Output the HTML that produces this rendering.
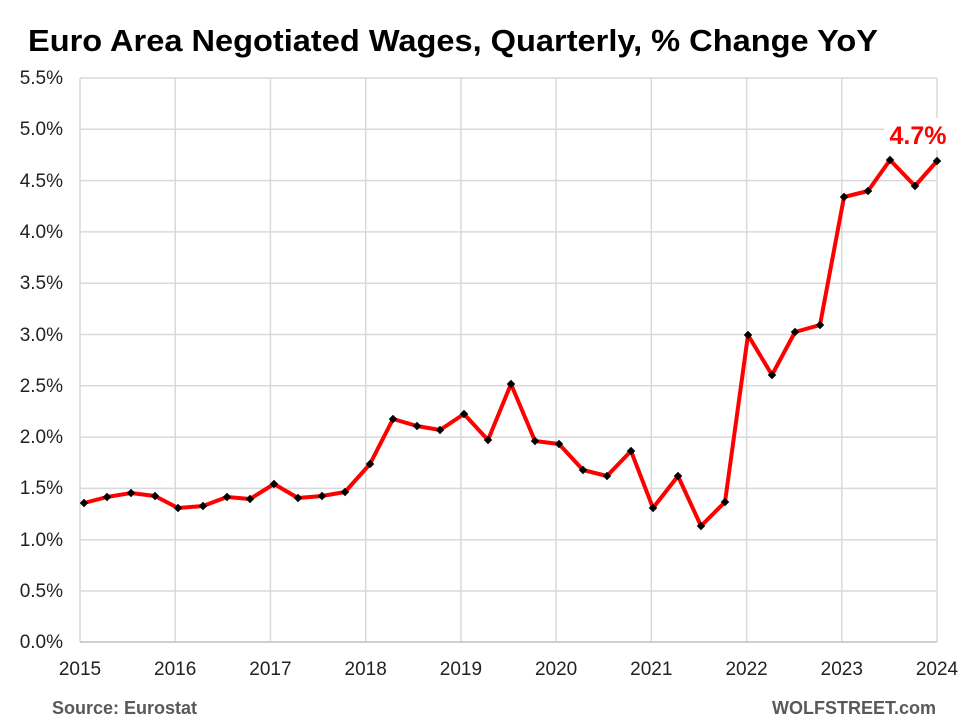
<!DOCTYPE html>
<html><head><style>
body{margin:0;background:#fff;}
svg{display:block;font-family:"Liberation Sans",sans-serif;}
</style></head><body>
<svg width="968" height="726" viewBox="0 0 968 726">
<rect width="968" height="726" fill="#fff"/>
<text x="28" y="51" font-size="31" font-weight="bold" textLength="850" lengthAdjust="spacingAndGlyphs" fill="#000">Euro Area Negotiated Wages, Quarterly, % Change YoY</text>
<g stroke="#d9d9d9" stroke-width="1.5">
<line x1="80" y1="78" x2="937" y2="78"/><line x1="80" y1="129.3" x2="937" y2="129.3"/><line x1="80" y1="180.6" x2="937" y2="180.6"/><line x1="80" y1="231.9" x2="937" y2="231.9"/><line x1="80" y1="283.2" x2="937" y2="283.2"/><line x1="80" y1="334.5" x2="937" y2="334.5"/><line x1="80" y1="385.8" x2="937" y2="385.8"/><line x1="80" y1="437.1" x2="937" y2="437.1"/><line x1="80" y1="488.4" x2="937" y2="488.4"/><line x1="80" y1="539.7" x2="937" y2="539.7"/><line x1="80" y1="591" x2="937" y2="591"/>
<line x1="80" y1="78" x2="80" y2="642"/><line x1="175.2" y1="78" x2="175.2" y2="642"/><line x1="270.4" y1="78" x2="270.4" y2="642"/><line x1="365.7" y1="78" x2="365.7" y2="642"/><line x1="460.9" y1="78" x2="460.9" y2="642"/><line x1="556.1" y1="78" x2="556.1" y2="642"/><line x1="651.3" y1="78" x2="651.3" y2="642"/><line x1="746.6" y1="78" x2="746.6" y2="642"/><line x1="841.8" y1="78" x2="841.8" y2="642"/><line x1="937" y1="78" x2="937" y2="642"/>
</g>
<line x1="80" y1="642" x2="937" y2="642" stroke="#bfbfbf" stroke-width="1.5"/>
<g font-size="19" fill="#222" text-anchor="end">
<text x="63" y="84">5.5%</text><text x="63" y="135">5.0%</text><text x="63" y="187">4.5%</text><text x="63" y="238">4.0%</text><text x="63" y="289">3.5%</text><text x="63" y="341">3.0%</text><text x="63" y="392">2.5%</text><text x="63" y="443">2.0%</text><text x="63" y="494">1.5%</text><text x="63" y="546">1.0%</text><text x="63" y="597">0.5%</text><text x="63" y="648">0.0%</text>
</g>
<g font-size="19" fill="#222" text-anchor="middle">
<text x="80" y="675">2015</text><text x="175.2" y="675">2016</text><text x="270.4" y="675">2017</text><text x="365.7" y="675">2018</text><text x="460.9" y="675">2019</text><text x="556.1" y="675">2020</text><text x="651.3" y="675">2021</text><text x="746.6" y="675">2022</text><text x="841.8" y="675">2023</text><text x="937" y="675">2024</text>
</g>
<polyline fill="none" stroke="#ff0000" stroke-width="4" stroke-linejoin="round" points="84,503 107,497 131,493 155,496 178,508 203,506 227,497 250,499 274,484 298,498 322,496 345,492 370,464 393,419 417,426 440,430 464,414 488,440 511,384 535,441 559,444 583,470 607,476 631,451 653,508 678,476 701,526 725,502 748,335 772,375 795,332 820,325 844,197 868,191 890,160 915,186 937,161"/>
<g fill="#000">
<rect x="81" y="500" width="6" height="6" transform="rotate(45 84 503)"/><rect x="104" y="494" width="6" height="6" transform="rotate(45 107 497)"/><rect x="128" y="490" width="6" height="6" transform="rotate(45 131 493)"/><rect x="152" y="493" width="6" height="6" transform="rotate(45 155 496)"/><rect x="175" y="505" width="6" height="6" transform="rotate(45 178 508)"/><rect x="200" y="503" width="6" height="6" transform="rotate(45 203 506)"/><rect x="224" y="494" width="6" height="6" transform="rotate(45 227 497)"/><rect x="247" y="496" width="6" height="6" transform="rotate(45 250 499)"/><rect x="271" y="481" width="6" height="6" transform="rotate(45 274 484)"/><rect x="295" y="495" width="6" height="6" transform="rotate(45 298 498)"/><rect x="319" y="493" width="6" height="6" transform="rotate(45 322 496)"/><rect x="342" y="489" width="6" height="6" transform="rotate(45 345 492)"/><rect x="367" y="461" width="6" height="6" transform="rotate(45 370 464)"/><rect x="390" y="416" width="6" height="6" transform="rotate(45 393 419)"/><rect x="414" y="423" width="6" height="6" transform="rotate(45 417 426)"/><rect x="437" y="427" width="6" height="6" transform="rotate(45 440 430)"/><rect x="461" y="411" width="6" height="6" transform="rotate(45 464 414)"/><rect x="485" y="437" width="6" height="6" transform="rotate(45 488 440)"/><rect x="508" y="381" width="6" height="6" transform="rotate(45 511 384)"/><rect x="532" y="438" width="6" height="6" transform="rotate(45 535 441)"/><rect x="556" y="441" width="6" height="6" transform="rotate(45 559 444)"/><rect x="580" y="467" width="6" height="6" transform="rotate(45 583 470)"/><rect x="604" y="473" width="6" height="6" transform="rotate(45 607 476)"/><rect x="628" y="448" width="6" height="6" transform="rotate(45 631 451)"/><rect x="650" y="505" width="6" height="6" transform="rotate(45 653 508)"/><rect x="675" y="473" width="6" height="6" transform="rotate(45 678 476)"/><rect x="698" y="523" width="6" height="6" transform="rotate(45 701 526)"/><rect x="722" y="499" width="6" height="6" transform="rotate(45 725 502)"/><rect x="745" y="332" width="6" height="6" transform="rotate(45 748 335)"/><rect x="769" y="372" width="6" height="6" transform="rotate(45 772 375)"/><rect x="792" y="329" width="6" height="6" transform="rotate(45 795 332)"/><rect x="817" y="322" width="6" height="6" transform="rotate(45 820 325)"/><rect x="841" y="194" width="6" height="6" transform="rotate(45 844 197)"/><rect x="865" y="188" width="6" height="6" transform="rotate(45 868 191)"/><rect x="887" y="157" width="6" height="6" transform="rotate(45 890 160)"/><rect x="912" y="183" width="6" height="6" transform="rotate(45 915 186)"/><rect x="934" y="158" width="6" height="6" transform="rotate(45 937 161)"/>
</g>
<rect x="884" y="118" width="70" height="32" fill="#fff"/>
<text x="918" y="144" font-size="25" font-weight="bold" fill="#ff0000" text-anchor="middle">4.7%</text>
<text x="52" y="714" font-size="18" font-weight="bold" fill="#595959">Source: Eurostat</text>
<text x="936" y="714" font-size="18" font-weight="bold" fill="#595959" text-anchor="end">WOLFSTREET.com</text>
</svg>
</body></html>
